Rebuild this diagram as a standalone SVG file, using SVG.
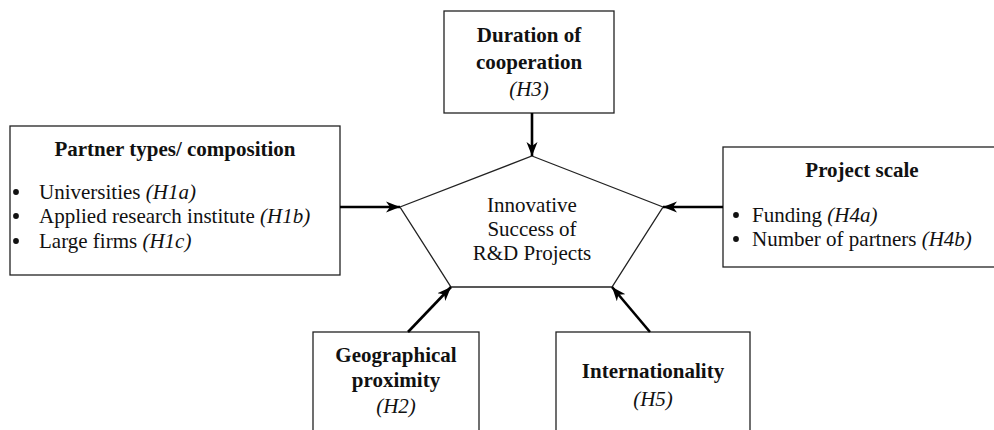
<svg xmlns="http://www.w3.org/2000/svg" width="994" height="430" viewBox="0 0 994 430">
<style>
.box{fill:#fff;stroke:#222;stroke-width:1.3}
.t{font-family:"Liberation Serif","Times New Roman",serif;font-size:21px;fill:#111}
.b{font-weight:bold}
.i{font-style:italic}
.c{text-anchor:middle}
.dot{fill:#111}
.conn{stroke:#000;stroke-width:2.6;fill:none}
</style>
<defs>
<marker id="ah" markerUnits="userSpaceOnUse" markerWidth="16" markerHeight="12" refX="14" refY="6" orient="auto">
<path d="M0,0.5 L14,6 L0,11.5 L4,6 z" fill="#000"/>
</marker>
</defs>
<rect width="994" height="430" fill="#fff"/>
<g id="center">
<polygon class="box" points="532,156 663,207 612,287 451,287 400,207"/>
<text class="t c" x="532" y="212">Innovative</text>
<text class="t c" x="532" y="236">Success of</text>
<text class="t c" x="532" y="260">R&amp;D Projects</text>
</g>
<g id="partner">
<rect class="box" x="10" y="126" width="330" height="149"/>
<text class="t b c" x="175" y="156">Partner types/ composition</text>
<circle class="dot" cx="16" cy="192" r="2.9"/><text class="t" x="39" y="199">Universities <tspan class="i">(H1a)</tspan></text>
<circle class="dot" cx="16" cy="216" r="2.9"/><text class="t" x="39" y="223">Applied research institute <tspan class="i">(H1b)</tspan></text>
<circle class="dot" cx="16" cy="241" r="2.9"/><text class="t" x="39" y="248">Large firms <tspan class="i">(H1c)</tspan></text>
</g>
<g id="duration">
<rect class="box" x="444" y="11" width="170" height="102"/>
<text class="t b c" x="529" y="42">Duration of</text>
<text class="t b c" x="529" y="69">cooperation</text>
<text class="t i c" x="529" y="96">(H3)</text>
</g>
<g id="scale">
<rect class="box" x="723" y="147" width="276" height="120"/>
<text class="t b c" x="862" y="177">Project scale</text>
<circle class="dot" cx="736" cy="215" r="2.9"/><text class="t" x="752" y="222">Funding <tspan class="i">(H4a)</tspan></text>
<circle class="dot" cx="736" cy="239" r="2.9"/><text class="t" x="752" y="246">Number of partners <tspan class="i">(H4b)</tspan></text>
</g>
<g id="geo">
<rect class="box" x="313" y="332" width="166" height="110"/>
<text class="t b c" x="396" y="362">Geographical</text>
<text class="t b c" x="396" y="387">proximity</text>
<text class="t i c" x="396" y="413">(H2)</text>
</g>
<g id="intl">
<rect class="box" x="556" y="332" width="194" height="110"/>
<text class="t b c" x="653" y="378">Internationality</text>
<text class="t i c" x="653" y="406">(H5)</text>
</g>
<g id="connectors">
<line class="conn" x1="340" y1="207" x2="400" y2="207" marker-end="url(#ah)"/>
<line class="conn" x1="532" y1="113" x2="532" y2="156" marker-end="url(#ah)"/>
<line class="conn" x1="723" y1="207" x2="663" y2="207" marker-end="url(#ah)"/>
<line class="conn" x1="408" y1="332" x2="451" y2="287" marker-end="url(#ah)"/>
<line class="conn" x1="650" y1="332" x2="612" y2="287" marker-end="url(#ah)"/>
</g>
</svg>
